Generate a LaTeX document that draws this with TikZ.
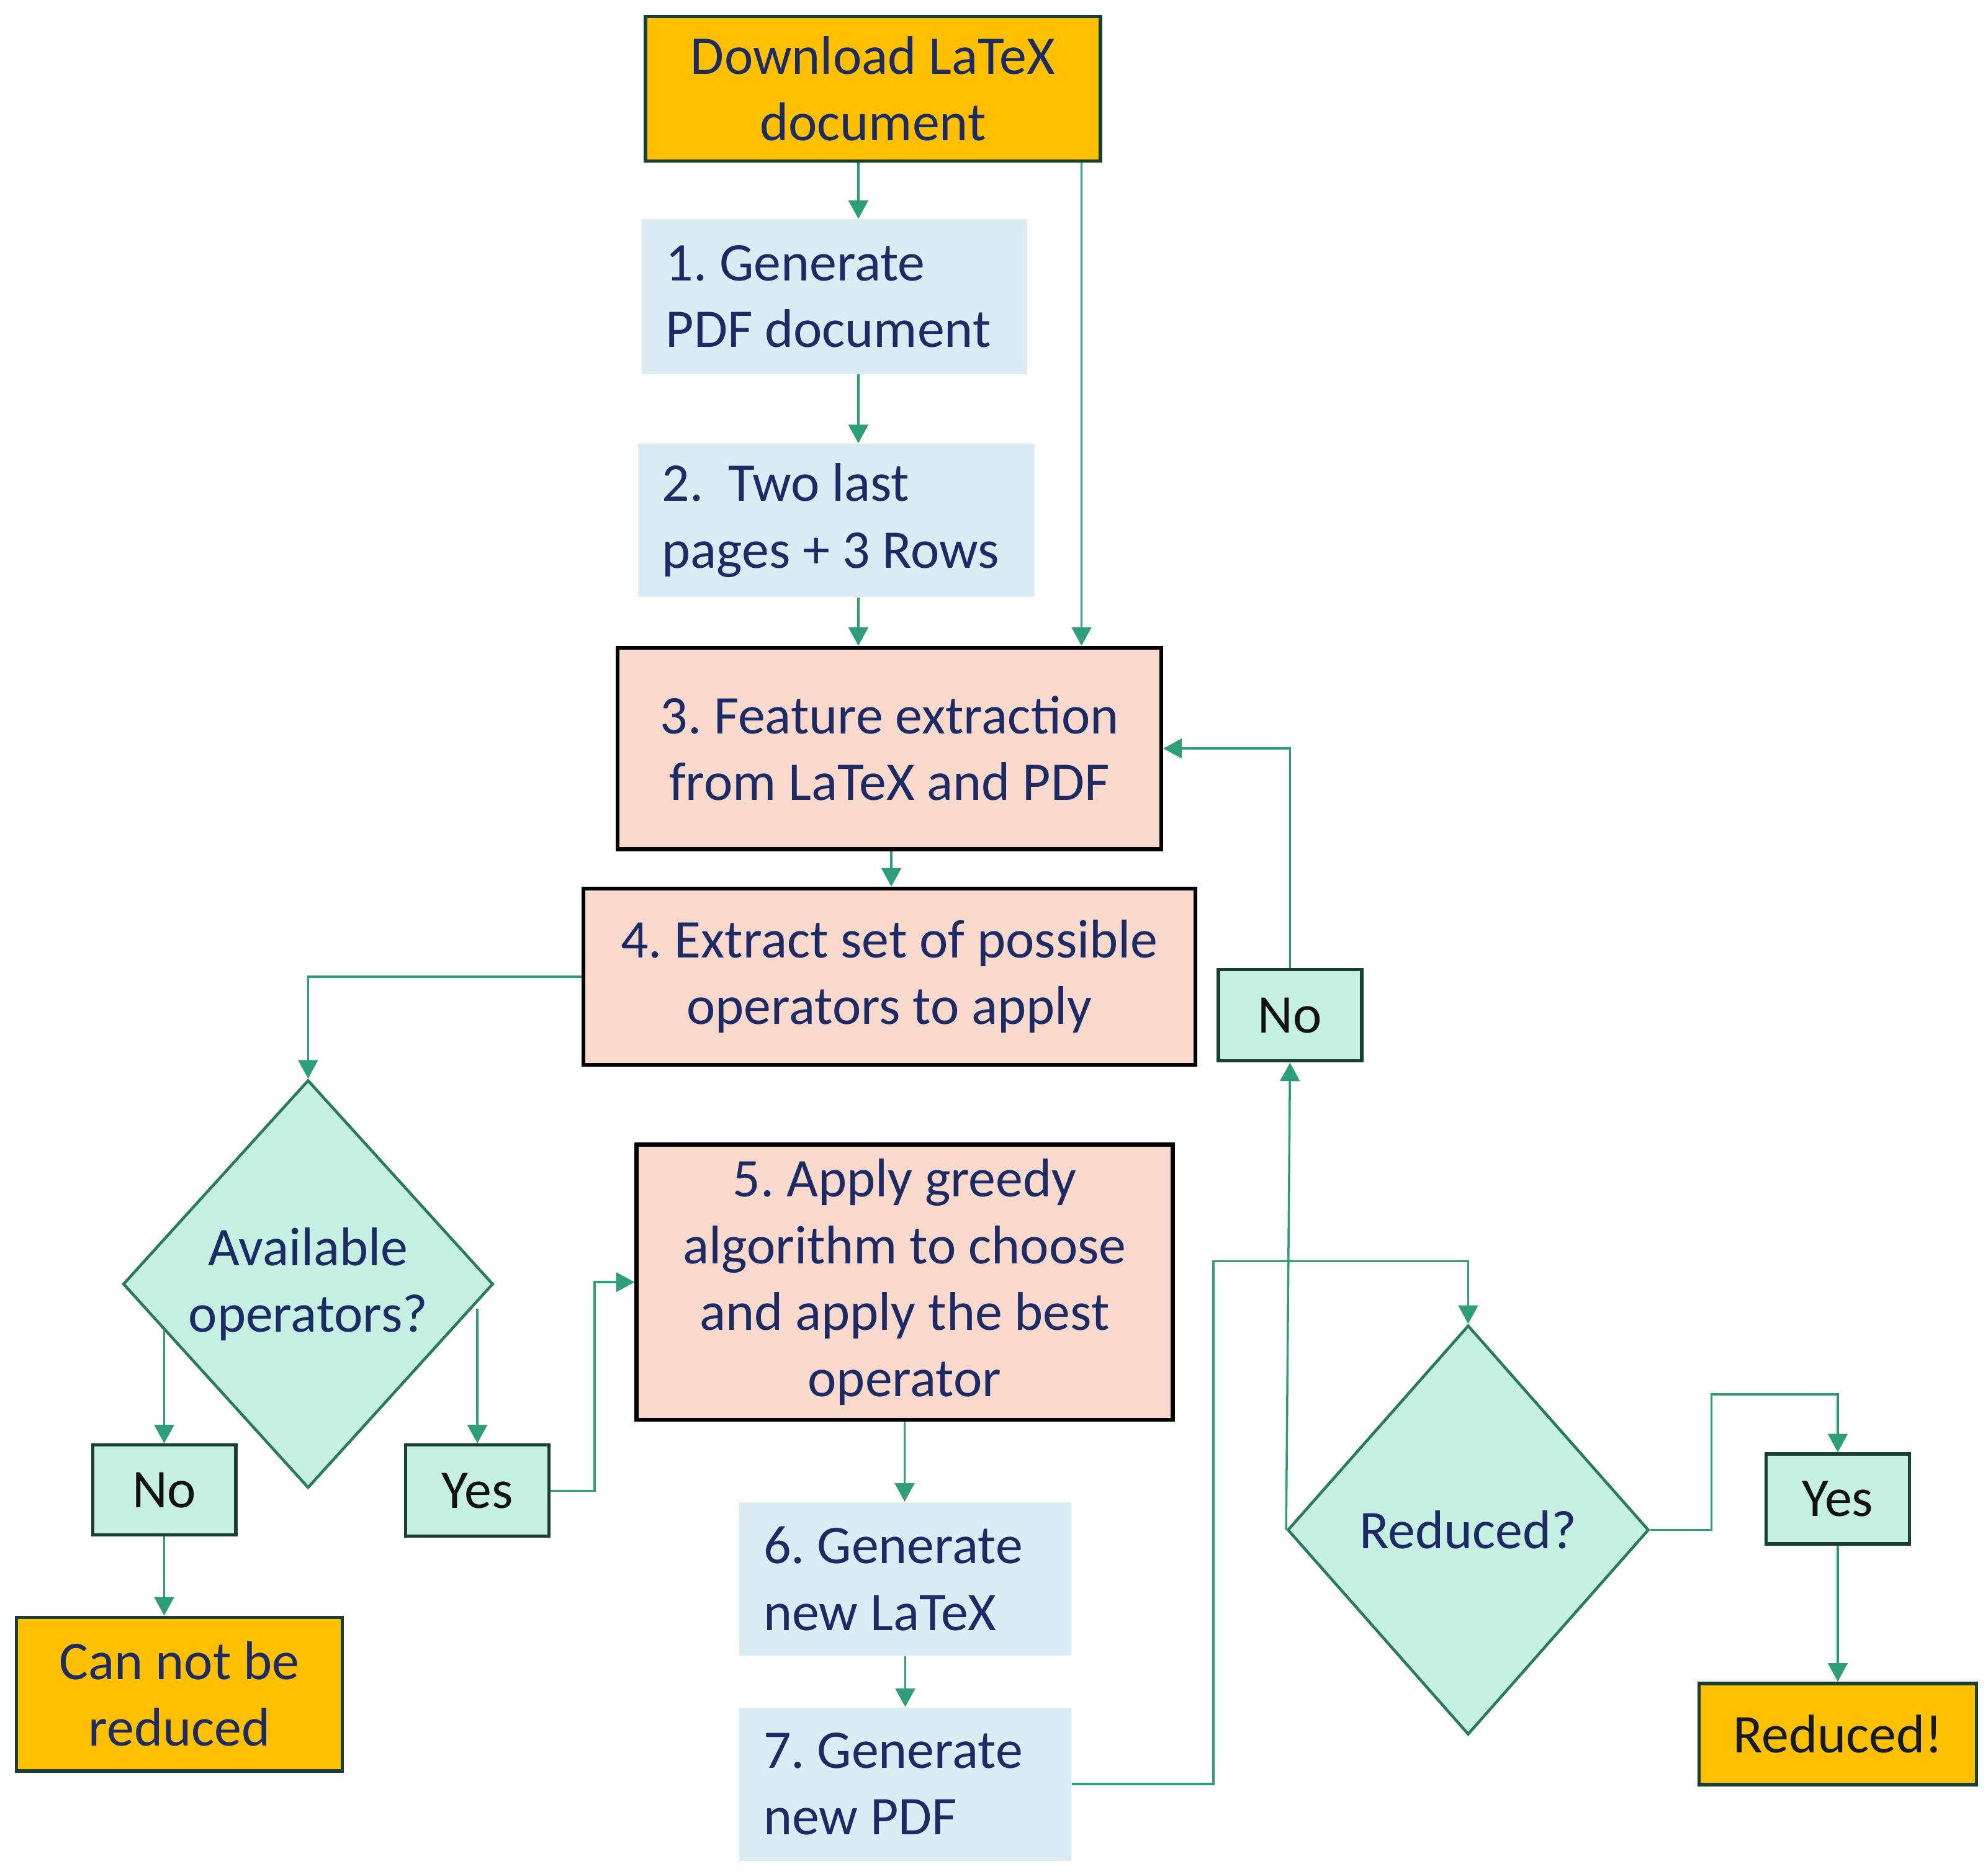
\documentclass[tikz,border=0pt]{standalone}
\usepackage{fontspec}
\setmainfont{Carlito}
\usetikzlibrary{arrows.meta,shapes.geometric,calc}
\definecolor{orangefill}{HTML}{FFC000}
\definecolor{darkborder}{HTML}{183F30}
\definecolor{mintfill}{HTML}{C5F0E2}
\definecolor{diamondborder}{HTML}{2A7A60}
\definecolor{peachfill}{HTML}{F8D9CB}
\definecolor{bluefill}{HTML}{DAEDF4}
\definecolor{arrowgreen}{HTML}{2E9E7A}
\definecolor{navytext}{HTML}{1C2B66}
\definecolor{blacktext}{HTML}{111111}
\newcommand{\natsp}{\spaceskip=0pt\xspaceskip=0pt\relax}
\tikzset{
  base/.style={rectangle, inner sep=0pt, font=\fontsize{25}{30.5}\selectfont\frenchspacing, text=navytext, align=center},
  termbox/.style={base, fill=orangefill, draw=darkborder, line width=1.6pt},
  stepbox/.style={base, fill=peachfill, draw=black, line width=1.8pt},
  plainbox/.style={base, fill=bluefill, align=left, inner xsep=0.39cm},
  answerbox/.style={base, fill=mintfill, draw=darkborder, line width=1.5pt, text=blacktext},
  decision/.style={diamond, inner sep=0pt, fill=mintfill, draw=diamondborder, line width=1.3pt, font=\fontsize{25}{30.5}\selectfont\frenchspacing, text=navytext, align=center},
  arr/.style={draw=arrowgreen, line width=1pt, -{Triangle[length=8.5pt,width=9pt]}},
}
\begin{document}
\begin{tikzpicture}[x=0.020427cm, y=-0.020427cm]
\useasboundingbox (0,0) rectangle (1568,1478);

% nodes
\node[termbox, minimum width=7.333cm, minimum height=2.329cm] (dl) at (688.5,70) {Download LaTeX\\document};
\node[plainbox, text width=5.43cm, minimum height=2.492cm] (b1) at (658,234) {\natsp\mbox{1. Generate}\\\mbox{PDF document}};
\node[plainbox, text width=5.61cm, minimum height=2.472cm] (b2) at (659.5,410.5) {\natsp\mbox{2.\ \ Two last}\\\mbox{pages + 3 Rows}};
\node[stepbox, minimum width=8.763cm, minimum height=3.248cm] (b3) at (701.5,590.5) {3. Feature extraction\\from LaTeX and PDF};
\node[stepbox, minimum width=9.866cm, minimum height=2.839cm] (b4) at (701.5,770.5) {4. Extract set of possible\\operators to apply};
\node[decision, minimum width=5.965cm, minimum height=6.577cm] (d1) at (243,1013) {Available\\operators?};
\node[answerbox, minimum width=2.308cm, minimum height=1.450cm] (n1) at (129.5,1175.5) {No};
\node[answerbox, minimum width=2.308cm, minimum height=1.471cm] (y1) at (376.5,1176) {Yes};
\node[termbox, minimum width=5.250cm, minimum height=2.472cm] (cnr) at (141.5,1336.5) {Can not be\\reduced};
\node[stepbox, minimum width=8.641cm, minimum height=4.433cm] (b5) at (713.5,1011.5) {5. Apply greedy\\algorithm to choose\\and apply the best\\operator};
\node[plainbox, text width=4.57cm, minimum height=2.472cm] (b6) at (714,1245.5) {\natsp\mbox{6. Generate}\\\mbox{new LaTeX}};
\node[plainbox, text width=4.57cm, minimum height=2.472cm] (b7) at (714,1407.5) {\natsp\mbox{7. Generate}\\\mbox{new PDF}};
\node[decision, minimum width=5.822cm, minimum height=6.598cm] (d2) at (1158,1207) {Reduced?};
\node[answerbox, minimum width=2.308cm, minimum height=1.471cm] (n2) at (1017.5,801) {No};
\node[answerbox, minimum width=2.308cm, minimum height=1.450cm] (y2) at (1449.5,1182.5) {Yes};
\node[termbox, minimum width=4.473cm, minimum height=1.634cm, text=blacktext!70!navytext] (red) at (1449.5,1368) {Reduced!};

% helper coordinates
\coordinate (c677) at (677,0);
\coordinate (c853) at (853,0);
\coordinate (c703) at (703,0);
\coordinate (c469) at (469,0);
\coordinate (k1) at (957,995);
\coordinate (k2) at (1350,1100);
\coordinate (d1l) at ($(d1.west)!0.226!(d1.south)$);
\coordinate (d1r) at ($(d1.east)!0.12!(d1.south)$);

% connectors
\draw[arr] (dl.south -| c677) -- (b1.north -| c677);
\draw[arr] (b1.south -| c677) -- (b2.north -| c677);
\draw[arr] (b2.south -| c677) -- (b3.north -| c677);
\draw[arr] (dl.south -| c853) -- (b3.north -| c853);
\draw[arr] (b3.south -| c703) -- (b4.north -| c703);
\draw[arr] (b4.west) -| (d1.north);
\draw[arr] (n1.north |- d1l) -- (n1.north);
\draw[arr] (y1.north |- d1r) -- (y1.north);
\draw[arr] (n1.south) -- (n1.south |- cnr.north);
\draw[arr] (y1.east) -- (y1.east -| c469) |- (b5.west);
\draw[arr] (b5.south) -- (b5.south |- b6.north);
\draw[arr] (b6.south) -- (b6.south |- b7.north);
\draw[arr] (b7.east) -| (k1) -| (d2.north);
\draw[arr] (d2.west) -- (n2.south);
\draw[arr] (n2.north) |- (b3.east);
\draw[arr] (d2.east) -| (k2) -| (y2.north);
\draw[arr] (y2.south) -- (red.north);
\end{tikzpicture}
\end{document}
